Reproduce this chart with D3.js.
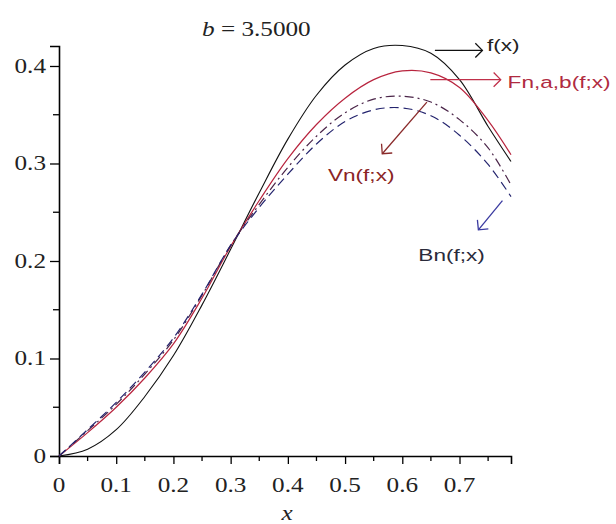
<!DOCTYPE html>
<html>
<head>
<meta charset="utf-8">
<script src="https://cdn.jsdelivr.net/npm/d3@7"></script>
<style>
  body { margin: 0; background: #fff; }
  svg { display: block; }
</style>
</head>
<body>
<div id="chart"></div>
<script>
// values
var xVals  = [0, 0.05, 0.1, 0.15, 0.2, 0.25, 0.3, 0.35, 0.4, 0.45, 0.5, 0.55, 0.6, 0.65, 0.7, 0.75, 0.79];
var fVals  = [0, 0.007, 0.027, 0.061, 0.103, 0.155, 0.212, 0.27, 0.325, 0.37, 0.401, 0.418, 0.421, 0.413, 0.386, 0.338, 0.302];
var fnVals = [0, 0.024, 0.05, 0.08, 0.115, 0.162, 0.215, 0.262, 0.305, 0.34, 0.367, 0.386, 0.395, 0.393, 0.378, 0.344, 0.309];
var vnVals = [0, 0.026, 0.053, 0.084, 0.119, 0.165, 0.216, 0.258, 0.296, 0.328, 0.352, 0.366, 0.369, 0.363, 0.345, 0.316, 0.278];
var bnVals = [0, 0.027, 0.055, 0.086, 0.121, 0.166, 0.216, 0.255, 0.289, 0.32, 0.343, 0.355, 0.357, 0.349, 0.329, 0.299, 0.266];

var xTicks = [0, 0.1, 0.2, 0.3, 0.4, 0.5, 0.6, 0.7];
var yTicks = [0, 0.1, 0.2, 0.3, 0.4];
var xMinor = [0.05, 0.15, 0.25, 0.35, 0.45, 0.55, 0.65, 0.75];
var yMinor = [0.05, 0.15, 0.25, 0.35];

var titleText = "3.5000";
var series = [
    {name: "f",  vals: fVals,  color: "#111111", dash: null,        w: 1.1},
    {name: "Fn", vals: fnVals, color: "#b8243e", dash: null,        w: 1.2},
    {name: "Vn", vals: vnVals, color: "#4a2448", dash: "9,4,2,4",   w: 1.2},
    {name: "Bn", vals: bnVals, color: "#24246e", dash: "9,5",       w: 1.2}
];
// arrows: from / to in data units
var notes = [
    {label: "f(x)",        color: "#111111", tcolor: "#222222", from: [0.657, 0.416], to: [0.74, 0.416],  lx: 0.748, ly: 0.415},
    {label: "Fn,a,b(f;x)", color: "#c0304a", tcolor: "#b02a40", from: [0.649, 0.386], to: [0.772, 0.386], lx: 0.784, ly: 0.377},
    {label: "Vn(f;x)",     color: "#8a2a2a", tcolor: "#8a2424", from: [0.643, 0.363], to: [0.565, 0.31],  lx: 0.470, ly: 0.282},
    {label: "Bn(f;x)",     color: "#3a3aa0", tcolor: "#2a2a3a", from: [0.775, 0.262], to: [0.733, 0.232], lx: 0.628, ly: 0.2}
];

var width = 616, height = 524;
var margin = {left: 59, right: 105, top: 46, bottom: 68};

var svg = d3.select("#chart").append("svg")
    .attr("width", width)
    .attr("height", height);

var x = d3.scaleLinear().domain([0, 0.79]).range([margin.left, width - margin.right]);
var y = d3.scaleLinear().domain([0, 0.4205]).range([height - margin.bottom, margin.top]);

var serif = "'Liberation Serif', 'Times New Roman', serif";
var sans = "'Liberation Sans', Arial, sans-serif";
var sx = 1.2;

function stretchText(g, px, py, txt, size, family, anchor, scale) {
    return g.append("text")
        .attr("transform", "translate(" + px + "," + py + ") scale(" + scale + ",1)")
        .attr("text-anchor", anchor)
        .attr("font-family", family)
        .attr("font-size", size)
        .text(txt);
}

// axes
var gx = svg.append("g").attr("transform", "translate(0," + y(0) + ")");
gx.call(d3.axisBottom(x).tickValues(xTicks).tickSize(8).tickFormat(""));
gx.call(function (g) {
    g.append("g").selectAll("line").data(xMinor).enter().append("line")
        .attr("x1", function (d) { return x(d); }).attr("x2", function (d) { return x(d); })
        .attr("y1", 0).attr("y2", 5).attr("stroke", "#000").attr("stroke-width", 1.3);
});
var gy = svg.append("g").attr("transform", "translate(" + x(0) + ",0)");
gy.call(d3.axisLeft(y).tickValues(yTicks).tickSize(9).tickFormat(""));
gy.append("g").selectAll("line").data(yMinor).enter().append("line")
    .attr("y1", function (d) { return y(d); }).attr("y2", function (d) { return y(d); })
    .attr("x1", 0).attr("x2", -6).attr("stroke", "#000").attr("stroke-width", 1.3);

svg.selectAll(".domain").attr("stroke", "#000").attr("stroke-width", 1.6);
svg.selectAll(".tick line").attr("stroke", "#000").attr("stroke-width", 1.3);

// tick labels
xTicks.forEach(function (t) {
    stretchText(svg, x(t), y(0) + 36, String(t), 21, serif, "middle", sx).attr("fill", "#222");
});
yTicks.forEach(function (t) {
    stretchText(svg, x(0) - 13, y(t) + 7, String(t), 21, serif, "end", sx).attr("fill", "#222");
});

// axis title and plot title
stretchText(svg, (x(0) + x(0.79)) / 2 + 2, 520, "x", 21, serif, "middle", sx)
    .attr("font-style", "italic").attr("fill", "#222");
var tt = svg.append("text")
    .attr("transform", "translate(202,36) scale(" + sx + ",1)")
    .attr("font-family", serif).attr("font-size", 21).attr("fill", "#222");
tt.append("tspan").attr("font-style", "italic").text("b");
tt.append("tspan").text(" = " + titleText);

// curves
var line = d3.line()
    .x(function (d, i) { return x(xVals[i]); })
    .y(function (d) { return y(d); })
    .curve(d3.curveCatmullRom);

svg.append("g").selectAll("path").data(series).enter().append("path")
    .attr("d", function (d) { return line(d.vals); })
    .attr("fill", "none")
    .attr("stroke", function (d) { return d.color; })
    .attr("stroke-width", function (d) { return d.w; })
    .attr("stroke-dasharray", function (d) { return d.dash; });

// annotation arrows with open heads
var ga = svg.append("g");
notes.forEach(function (n) {
    var x1 = x(n.from[0]), y1 = y(n.from[1]), x2 = x(n.to[0]), y2 = y(n.to[1]);
    var ang = Math.atan2(y1 - y2, x1 - x2);
    var len = 10;
    var a1 = ang + Math.PI / 4, a2 = ang - Math.PI / 4;
    ga.append("line")
        .attr("x1", x1).attr("y1", y1).attr("x2", x2).attr("y2", y2)
        .attr("stroke", n.color).attr("stroke-width", 1.3);
    ga.append("path")
        .attr("d", "M" + (x2 + len * Math.cos(a1)) + "," + (y2 + len * Math.sin(a1)) +
            "L" + x2 + "," + y2 +
            "L" + (x2 + len * Math.cos(a2)) + "," + (y2 + len * Math.sin(a2)))
        .attr("fill", "none").attr("stroke", n.color).attr("stroke-width", 1.3);
    stretchText(ga, x(n.lx), y(n.ly), n.label, 17, sans, "start", 1.33).attr("fill", n.tcolor);
});
</script>
</body>
</html>
